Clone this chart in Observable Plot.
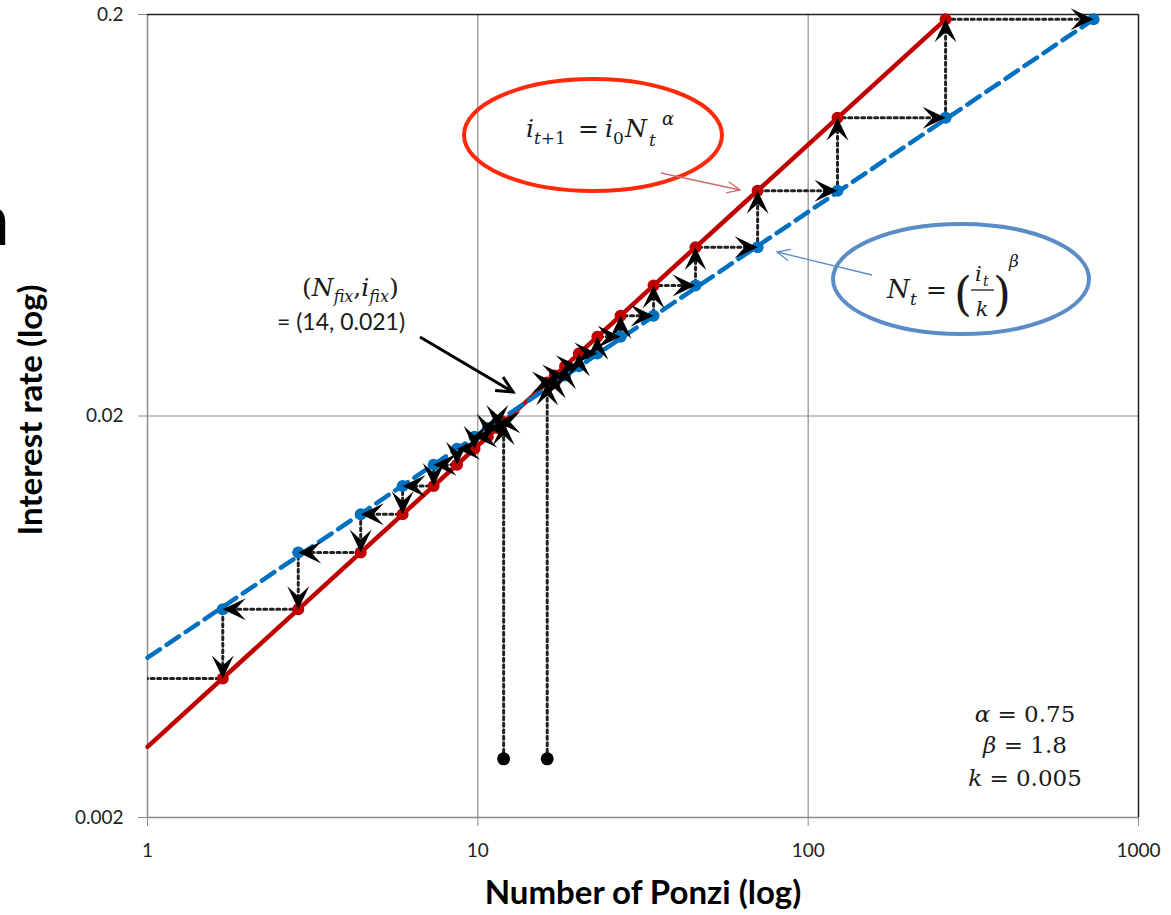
<!DOCTYPE html>
<html><head><meta charset="utf-8">
<script src="https://cdn.jsdelivr.net/npm/d3@7"></script>
<script src="https://cdn.jsdelivr.net/npm/@observablehq/plot@0.6"></script>
<style>
body{margin:0;background:#fff;overflow:hidden;}
#wrap{position:relative;width:1171px;height:915px;}
</style></head><body><div id="wrap"></div>
<script>
// ---- axis ticks ----
const xTicks = [1, 10, 100, 1000];
const xTickLabels = ["1", "10", "100", "1000"];
const yTicks = [0.002, 0.02, 0.2];
const yTickLabels = ["0.002", "0.02", "0.2"];

// ---- the two curves (end points) ----
const redLineN = [1, 260.6];      // i_{t+1} = i0 * N_t^alpha
const redLineI = [0.00300, 0.1945];
const blueLineN = [1, 731.1];     // N_t = (i_t / k)^beta
const blueLineI = [0.00500, 0.1945];

// ---- cobweb, upward branch: successive N_t and the interest rates on the red curve ----
const upN = [16.22, 17.10, 18.37, 20.23, 23.01, 27.04, 34.04, 45.60, 70.31, 122.7, 260.6, 731.1];
const upI = [0.02424, 0.02522, 0.02661, 0.02861, 0.03151, 0.03556, 0.04227, 0.05263, 0.07282, 0.1106, 0.1945];

// ---- cobweb, downward branch ----
const downN = [11.97, 11.46, 10.72, 9.77, 8.65, 7.35, 5.92, 4.42, 2.86, 1.69, 0.807];
const downI = [0.01930, 0.01867, 0.01776, 0.01658, 0.01512, 0.01338, 0.01138, 0.009137, 0.006603, 0.004437];

// ---- starting points (black dots) ----
const startN = [11.97, 16.22];
const startI = [0.0028, 0.0028];

// ---------- derived tables ----------
const redLine = redLineN.map((n, k) => ({N: n, i: redLineI[k]}));
const blueLine = blueLineN.map((n, k) => ({N: n, i: blueLineI[k]}));
const starts = startN.map((n, k) => ({N: n, i: startI[k]}));

function cobweb(Ns, Is, s) {
  const path = [{N: Ns[0], i: s.i}];
  Is.forEach((v, k) => { path.push({N: Ns[k], i: v}); path.push({N: Ns[k + 1], i: v}); });
  return path;
}
const upPath = cobweb(upN, upI, starts[1]);
const downPath = cobweb(downN, downI, starts[0]);

const redPts = upI.map((v, k) => ({N: upN[k], i: v})).concat(downI.map((v, k) => ({N: downN[k], i: v})));
const bluePts = upI.map((v, k) => ({N: upN[k + 1], i: v}))
  .concat(downI.map((v, k) => ({N: downN[k + 1], i: v}))).filter(d => d.N >= 1);

// arrow heads: tip at the target point of every step
const arrowsUp = upI.map((v, k) => ({N: upN[k], i: v})).concat([{N: downN[0], i: downI[0]}]);
const arrowsRight = upI.map((v, k) => ({N: upN[k + 1], i: v}));
const arrowsDown = downI.slice(1).map((v, k) => ({N: downN[k + 1], i: v}));
const arrowsLeft = downI.map((v, k) => ({N: downN[k + 1], i: v})).filter(d => d.N >= 1);

function arrowSym(dx, dy) {
  const L = 23, W = 11, Nn = 13;
  const px = -dy, py = dx;
  return {draw(ctx) {
    ctx.moveTo(0, 0);
    ctx.lineTo(-dx * L + px * W, -dy * L + py * W);
    ctx.lineTo(-dx * Nn, -dy * Nn);
    ctx.lineTo(-dx * L - px * W, -dy * L - py * W);
    ctx.closePath();
  }};
}

const RED = "#c00000", BLUE = "#0070c0", GRID = "#8c8c8c";
const SERIF = "'DejaVu Serif', serif";
const SANS = "Lato, 'Open Sans', sans-serif";

function annotations(index, scales, values, dims) {
  const g = d3.create("svg:g");
  function txt(x, y, parts, size, anchor = "start", fam = SERIF, fill = "#1a1a1a") {
    const t = g.append("text").attr("x", x).attr("y", y).attr("font-family", fam)
      .attr("font-size", size).attr("text-anchor", anchor).attr("fill", fill);
    (Array.isArray(parts) ? parts : [[parts]]).forEach(p => {
      const s = t.append("tspan").text(p[0]);
      if (p[1]) s.attr("font-style", "italic");
      if (p[2]) s.attr("dy", p[2]);
      if (p[3]) s.attr("font-size", p[3]);
    });
    return t;
  }
  function arrowLine(x1, y1, x2, y2, color, w, head, ang) {
    g.append("line").attr("x1", x1).attr("y1", y1).attr("x2", x2).attr("y2", y2)
      .attr("stroke", color).attr("stroke-width", w);
    const a = Math.atan2(y2 - y1, x2 - x1);
    const pts = [a + Math.PI - ang, a + Math.PI + ang].map(b => [x2 + head * Math.cos(b), y2 + head * Math.sin(b)]);
    g.append("path").attr("d", `M${pts[0]}L${x2},${y2}L${pts[1]}`).attr("fill", "none")
      .attr("stroke", color).attr("stroke-width", w).attr("stroke-linejoin", "miter");
  }
  // ellipses
  g.append("ellipse").attr("cx", 593).attr("cy", 135).attr("rx", 129).attr("ry", 56)
    .attr("fill", "none").attr("stroke", "#ff2a0a").attr("stroke-width", 4);
  g.append("ellipse").attr("cx", 961).attr("cy", 279).attr("rx", 128).attr("ry", 55)
    .attr("fill", "none").attr("stroke", "#5b8cc6").attr("stroke-width", 4);

  // red formula  i_{t+1} = i_0 N_t^alpha
  txt(526, 137, [["i", 1]], 25);
  txt(534, 144, [["t", 1], ["+1"]], 17);
  txt(578, 137, [["="]], 25);
  txt(605, 137, [["i", 1]], 25);
  txt(613, 144, [["0"]], 17);
  txt(625, 137, [["N", 1]], 25);
  txt(649, 146, [["t", 1]], 17);
  txt(662, 125, [["α", 1]], 18);

  // blue formula N_t = (i_t / k)^beta
  txt(887, 298, [["N", 1]], 26);
  txt(910, 305, [["t", 1]], 17);
  txt(926, 298, [["="]], 25);
  txt(954, 310, [["("]], 46);
  txt(975, 281, [["i", 1]], 21);
  txt(983, 286, [["t", 1]], 14);
  g.append("line").attr("x1", 971).attr("x2", 994).attr("y1", 290).attr("y2", 290).attr("stroke", "#1a1a1a").attr("stroke-width", 1.3);
  txt(982, 316, [["k", 1]], 21, "middle");
  txt(993, 310, [[")"]], 46);
  txt(1009, 267, [["β", 1]], 17);

  // fixed point label
  txt(302, 296, [["("], ["N", 1], ["fix", 1, 6, 16], [",", 0, -6, 25], ["i", 1], ["fix", 1, 6, 16], [")", 0, -6, 25]], 25);
  txt(277, 330, [["= (14, 0.021)"]], 23, "start", SANS);
  arrowLine(420, 337, 513, 392, "#000", 3, 18, 0.45);

  // thin pointer arrows
  arrowLine(661, 173, 740, 190, "#d06a6a", 1.3, 14, 0.42);
  arrowLine(872, 275, 777, 252, "#5b8cc6", 1.3, 14, 0.42);

  // parameters
  txt(1025, 722, [["α", 1], [" = 0.75"]], 23, "middle");
  txt(1025, 753, [["β", 1], [" = 1.8"]], 23, "middle");
  txt(1025, 786, [["k", 1], [" = 0.005"]], 23, "middle");

  // axis titles
  txt(0, 0, [["Interest rate (log)"]], 33, "middle", SANS, "#000")
    .attr("font-weight", "bold").attr("transform", "translate(42,410) rotate(-90)");
  txt(643, 904, [["Number of Ponzi (log)"]], 33, "middle", SANS, "#000").attr("font-weight", "bold");

  // cropped glyph at the left edge of the original image
  txt(10, 245, [["n"]], 74, "end", SANS, "#000");
  return g.node();
}

const chart = Plot.plot({
  width: 1171, height: 915,
  marginLeft: 147, marginRight: 33, marginTop: 14, marginBottom: 98,
  x: {type: "log", domain: [1, 1000]},
  y: {type: "log", domain: [0.002, 0.2]},
  style: {fontFamily: SANS, background: "white", overflow: "visible"},
  marks: [
    Plot.ruleX([10, 100], {stroke: GRID, strokeWidth: 1.2}),
    Plot.ruleY([0.02], {stroke: GRID, strokeWidth: 1.2}),
    Plot.ruleX([1], {stroke: GRID, strokeWidth: 1.5}),
    Plot.ruleY([0.002], {stroke: GRID, strokeWidth: 1.5}),
    Plot.ruleX([1000], {stroke: "#222", strokeWidth: 1.5}),
    Plot.ruleY([0.2], {stroke: "#222", strokeWidth: 1.5}),
    Plot.axisX({ticks: xTicks, tickFormat: d => xTickLabels[xTicks.indexOf(d)], label: null,
      tickSize: 9, tickPadding: 17, stroke: GRID, fill: "#222", fontSize: 19}),
    Plot.axisY({ticks: yTicks, tickFormat: d => yTickLabels[yTicks.indexOf(d)], label: null,
      tickSize: 9, tickPadding: 15, stroke: GRID, fill: "#222", fontSize: 19}),
    Plot.line(redLine, {x: "N", y: "i", stroke: RED, strokeWidth: 4.5}),
    Plot.line(blueLine, {x: "N", y: "i", stroke: BLUE, strokeWidth: 4.5, strokeDasharray: "15,8"}),
    Plot.line(upPath, {x: "N", y: "i", stroke: "#222", strokeWidth: 3, strokeDasharray: "3,3.5"}),
    Plot.line(downPath, {x: "N", y: "i", stroke: "#222", strokeWidth: 3, strokeDasharray: "3,3.5", clip: true}),
    Plot.dot(redPts, {x: "N", y: "i", r: 6, fill: RED}),
    Plot.dot(bluePts, {x: "N", y: "i", r: 6, fill: BLUE}),
    Plot.dot(arrowsUp, {x: "N", y: "i", symbol: arrowSym(0, -1), fill: "#000", stroke: "none", r: 5}),
    Plot.dot(arrowsDown, {x: "N", y: "i", symbol: arrowSym(0, 1), fill: "#000", stroke: "none", r: 5}),
    Plot.dot(arrowsRight, {x: "N", y: "i", symbol: arrowSym(1, 0), fill: "#000", stroke: "none", r: 5}),
    Plot.dot(arrowsLeft, {x: "N", y: "i", symbol: arrowSym(-1, 0), fill: "#000", stroke: "none", r: 5}),
    Plot.dot(starts, {x: "N", y: "i", r: 6.5, fill: "#000"}),
    annotations
  ]
});
document.getElementById("wrap").appendChild(chart);
</script></body></html>
